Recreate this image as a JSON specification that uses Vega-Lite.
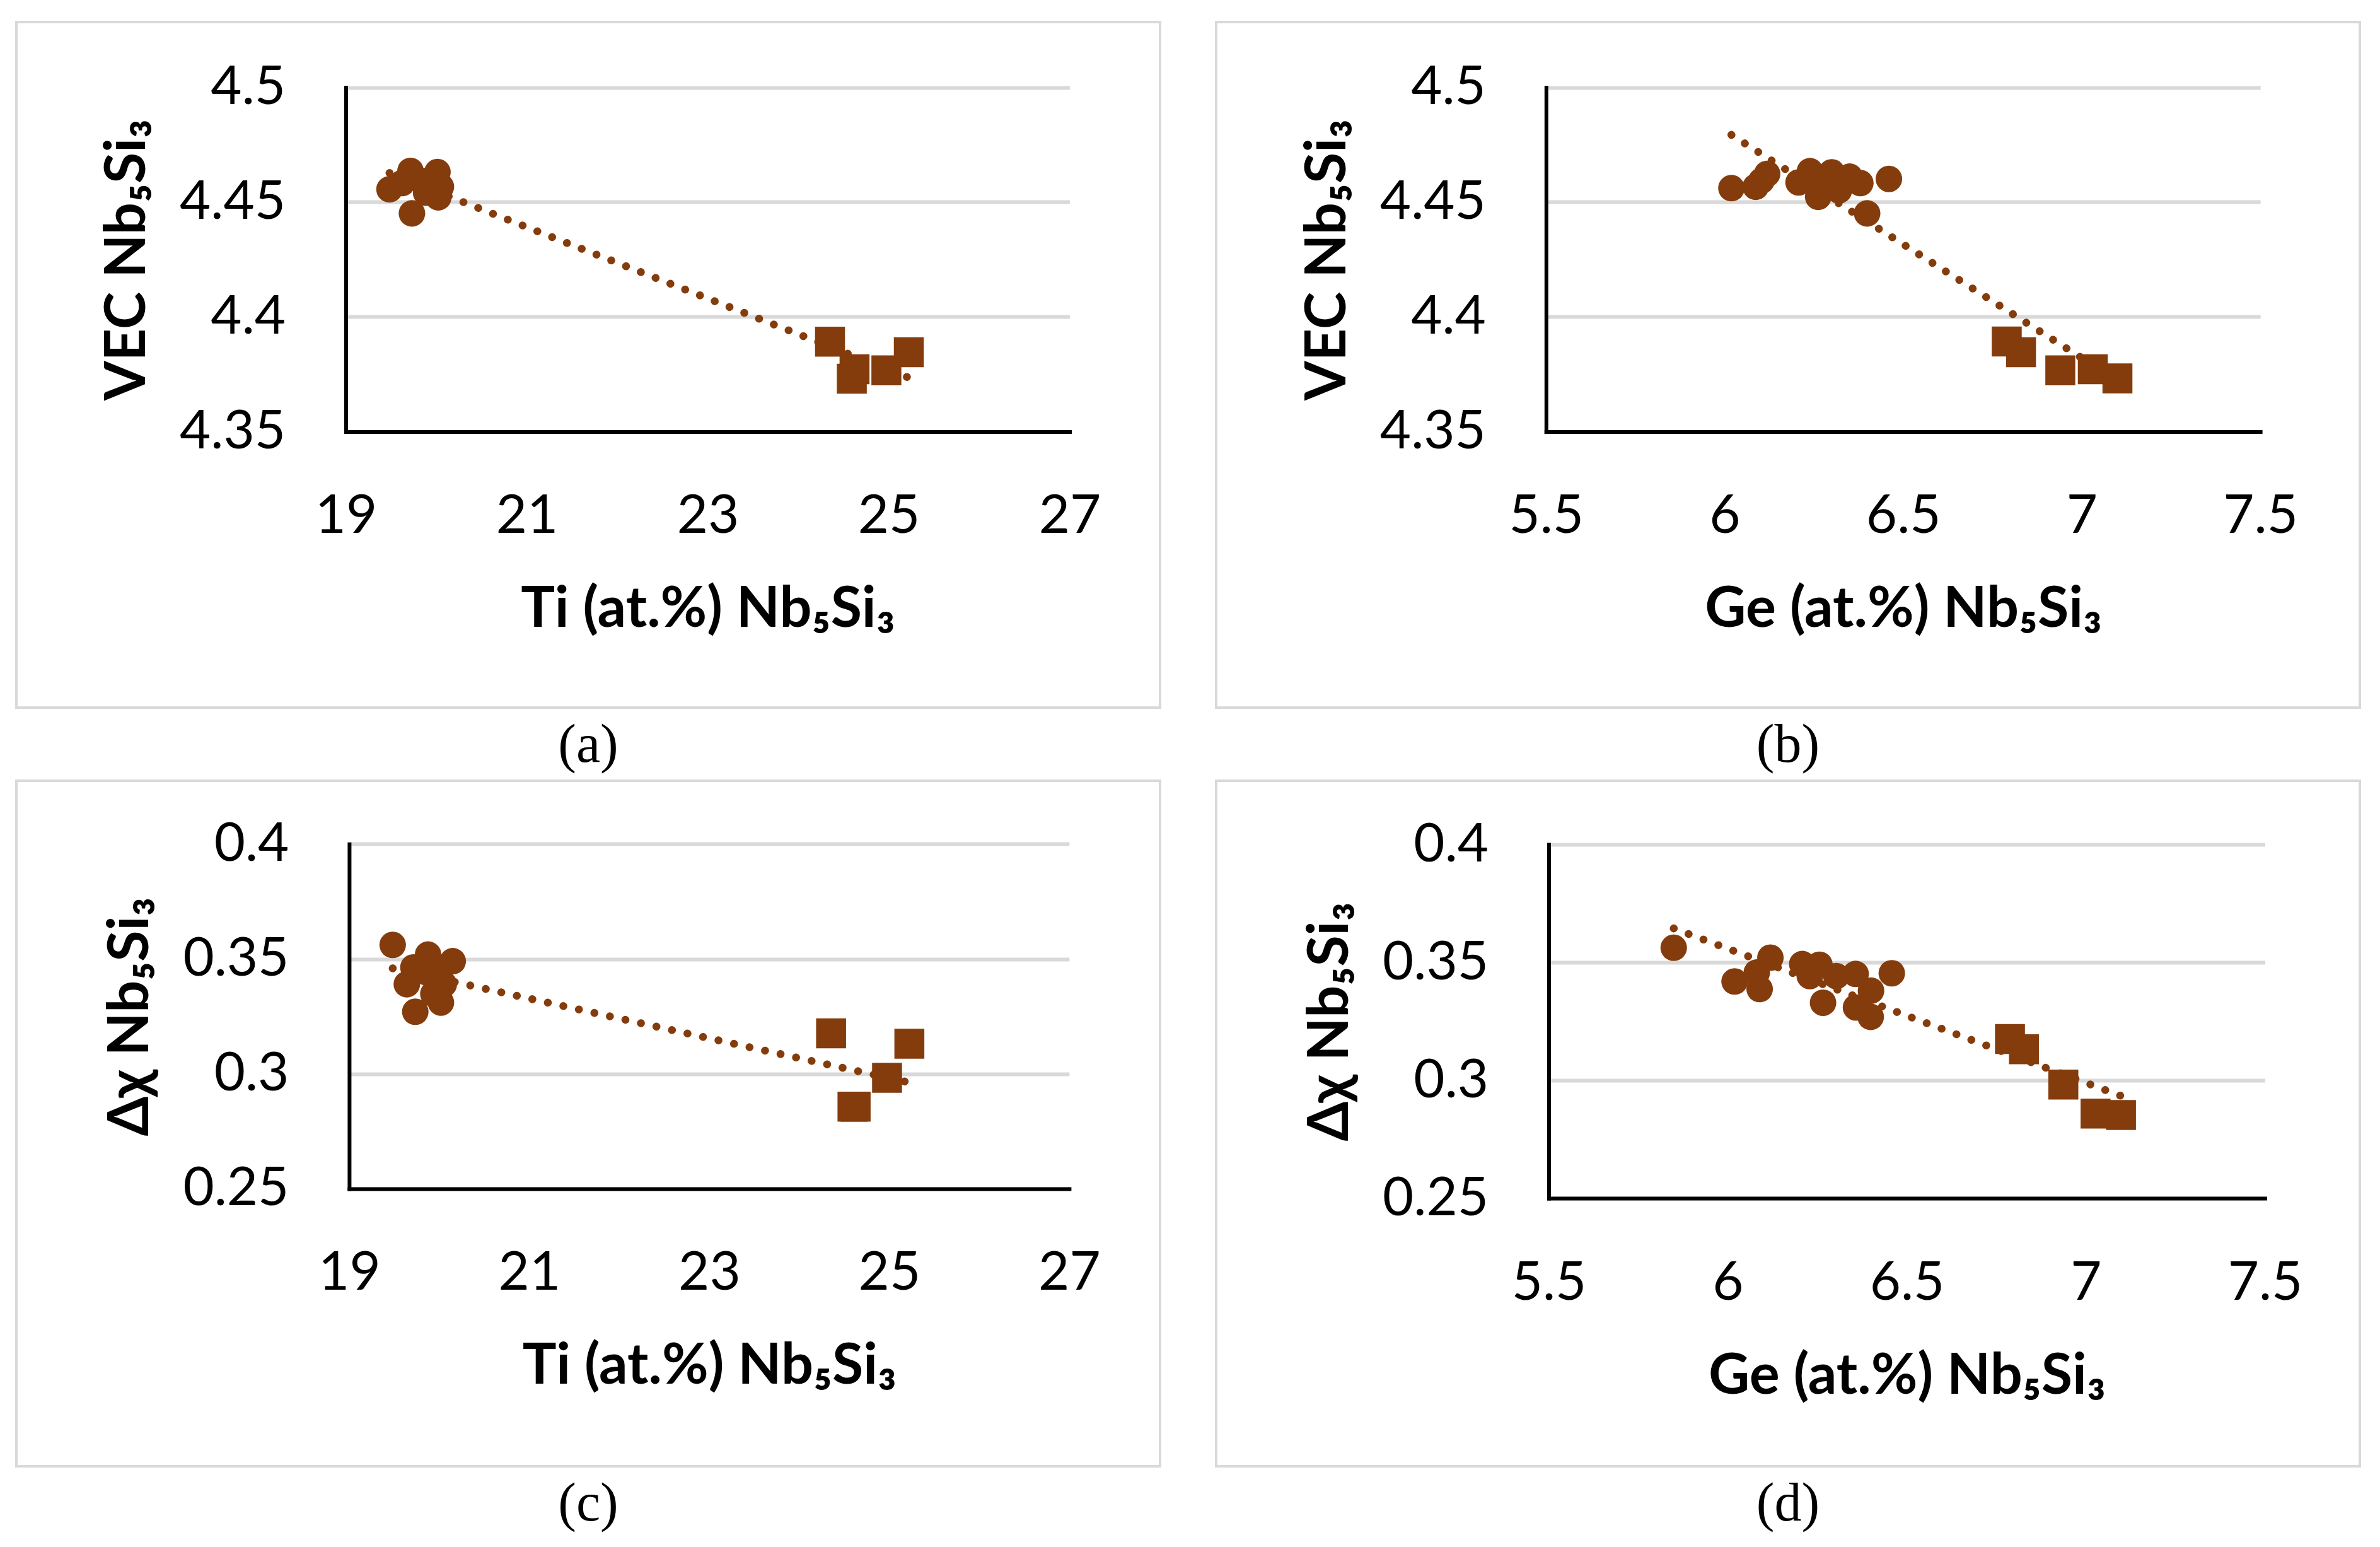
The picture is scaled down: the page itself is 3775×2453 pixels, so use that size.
{
  "$schema": "https://vega.github.io/schema/vega-lite/v6.json",
  "background": "#ffffff",
  "padding": {"left": 24, "top": 33, "right": 10, "bottom": 10},
  "columns": 2,
  "spacing": {"row": 116, "column": 89},
  "bounds": "flush",
  "datasets": {
    "a": [
      {"x": 19.483, "y": 4.4556, "m": "c"},
      {"x": 19.731, "y": 4.4451, "m": "c"},
      {"x": 19.715, "y": 4.4636, "m": "c"},
      {"x": 20.013, "y": 4.4631, "m": "c"},
      {"x": 20.051, "y": 4.4567, "m": "c"},
      {"x": 20.022, "y": 4.4521, "m": "c"},
      {"x": 19.835, "y": 4.4593, "m": "c"},
      {"x": 19.622, "y": 4.4583, "m": "c"},
      {"x": 19.888, "y": 4.4541, "m": "c"},
      {"x": 24.352, "y": 4.3892, "m": "s"},
      {"x": 25.223, "y": 4.3846, "m": "s"},
      {"x": 24.975, "y": 4.3767, "m": "s"},
      {"x": 24.623, "y": 4.3772, "m": "s"},
      {"x": 24.593, "y": 4.3731, "m": "s"}
    ],
    "b": [
      {"x": 6.019, "y": 4.4561, "m": "c"},
      {"x": 6.087, "y": 4.4567, "m": "c"},
      {"x": 6.119, "y": 4.4623, "m": "c"},
      {"x": 6.103, "y": 4.4593, "m": "c"},
      {"x": 6.207, "y": 4.4586, "m": "c"},
      {"x": 6.239, "y": 4.4635, "m": "c"},
      {"x": 6.300, "y": 4.4630, "m": "c"},
      {"x": 6.350, "y": 4.4611, "m": "c"},
      {"x": 6.262, "y": 4.4523, "m": "c"},
      {"x": 6.320, "y": 4.4551, "m": "c"},
      {"x": 6.380, "y": 4.4583, "m": "c"},
      {"x": 6.399, "y": 4.4451, "m": "c"},
      {"x": 6.460, "y": 4.4601, "m": "c"},
      {"x": 6.279, "y": 4.4583, "m": "c"},
      {"x": 6.790, "y": 4.3893, "m": "s"},
      {"x": 6.830, "y": 4.3846, "m": "s"},
      {"x": 6.940, "y": 4.3767, "m": "s"},
      {"x": 7.031, "y": 4.3772, "m": "s"},
      {"x": 7.100, "y": 4.3732, "m": "s"}
    ],
    "c": [
      {"x": 19.483, "y": 0.3561, "m": "c"},
      {"x": 19.876, "y": 0.3519, "m": "c"},
      {"x": 20.150, "y": 0.3490, "m": "c"},
      {"x": 19.640, "y": 0.3390, "m": "c"},
      {"x": 19.713, "y": 0.3463, "m": "c"},
      {"x": 19.734, "y": 0.3270, "m": "c"},
      {"x": 20.019, "y": 0.3310, "m": "c"},
      {"x": 20.051, "y": 0.3390, "m": "c"},
      {"x": 19.855, "y": 0.3442, "m": "c"},
      {"x": 19.935, "y": 0.3348, "m": "c"},
      {"x": 19.989, "y": 0.3463, "m": "c"},
      {"x": 24.354, "y": 0.3176, "m": "s"},
      {"x": 25.224, "y": 0.3131, "m": "s"},
      {"x": 24.976, "y": 0.2983, "m": "s"},
      {"x": 24.592, "y": 0.2857, "m": "s"},
      {"x": 24.627, "y": 0.2857, "m": "s"}
    ],
    "d": [
      {"x": 5.849, "y": 0.3562, "m": "c"},
      {"x": 6.019, "y": 0.3419, "m": "c"},
      {"x": 6.089, "y": 0.3387, "m": "c"},
      {"x": 6.119, "y": 0.3520, "m": "c"},
      {"x": 6.081, "y": 0.3457, "m": "c"},
      {"x": 6.208, "y": 0.3493, "m": "c"},
      {"x": 6.256, "y": 0.3490, "m": "c"},
      {"x": 6.357, "y": 0.3451, "m": "c"},
      {"x": 6.266, "y": 0.3329, "m": "c"},
      {"x": 6.399, "y": 0.3269, "m": "c"},
      {"x": 6.358, "y": 0.3309, "m": "c"},
      {"x": 6.400, "y": 0.3380, "m": "c"},
      {"x": 6.458, "y": 0.3454, "m": "c"},
      {"x": 6.303, "y": 0.3442, "m": "c"},
      {"x": 6.229, "y": 0.3442, "m": "c"},
      {"x": 6.788, "y": 0.3175, "m": "s"},
      {"x": 6.827, "y": 0.3132, "m": "s"},
      {"x": 6.937, "y": 0.2982, "m": "s"},
      {"x": 7.027, "y": 0.2859, "m": "s"},
      {"x": 7.098, "y": 0.2853, "m": "s"}
    ]
  },
  "concat": [
    {
      "width": 1814,
      "height": 1087,
      "title": {"text": "(a)", "orient": "bottom"},
      "encoding": {
        "x": {"field": "x", "type": "quantitative",
              "scale": {"domain": [19, 27], "range": [522.5, 1670.5], "zero": false, "nice": false},
              "axis": {"values": [19, 21, 23, 25, 27], "format": "~g", "offset": -437.5, "title": "Ti (at.%) Nb₅Si₃"}},
        "y": {"field": "y", "type": "quantitative",
              "scale": {"domain": [4.35, 4.5], "range": [649.5, 103.5], "zero": false, "nice": false},
              "axis": {"values": [4.35, 4.4, 4.45, 4.5], "format": "~g", "offset": -522.5, "title": "VEC Nb₅Si₃"}}
      },
      "layer": [
        {"data": {"values": [{"x": 21}, {"x": 23}, {"x": 25}, {"x": 27}]},
         "mark": {"type": "rule", "color": "#d9d9d9", "strokeWidth": 6},
         "encoding": {"y": {"datum": 4.3508}, "y2": {"datum": 4.5}}},
        {"data": {"name": "a"}, "transform": [{"filter": {"field": "m", "equal": "c"}}],
         "mark": {"type": "circle", "size": 1772, "opacity": 1, "color": "#843C0C"}},
        {"data": {"name": "a"}, "transform": [{"filter": {"field": "m", "equal": "s"}}],
         "mark": {"type": "square", "size": 2256, "opacity": 1, "color": "#843C0C"}},
        {"data": {"values": [{"x": 19.483, "y": 4.4627}, {"x": 25.223, "y": 4.3735}]},
         "mark": {"type": "line", "color": "#843C0C", "strokeWidth": 12.5, "strokeDash": [0.1, 25.1], "strokeCap": "round"}},
        {"data": {"values": [{"t": "R² = 0.9693"}]},
         "mark": {"type": "text", "font": "Lato", "fontSize": 88, "color": "#000000", "align": "center", "baseline": "alphabetic"},
         "encoding": {"x": {"datum": 24.453}, "y": {"datum": 4.4556}, "text": {"field": "t"}}}
      ]
    },
    {
      "width": 1814,
      "height": 1087,
      "title": {"text": "(b)", "orient": "bottom"},
      "encoding": {
        "x": {"field": "x", "type": "quantitative",
              "scale": {"domain": [5.5, 7.5], "range": [523.3, 1656.1], "zero": false, "nice": false},
              "axis": {"values": [5.5, 6, 6.5, 7, 7.5], "format": "~g", "offset": -437.5, "title": "Ge (at.%) Nb₅Si₃"}},
        "y": {"field": "y", "type": "quantitative",
              "scale": {"domain": [4.35, 4.5], "range": [649.5, 103.5], "zero": false, "nice": false},
              "axis": {"values": [4.35, 4.4, 4.45, 4.5], "format": "~g", "offset": -523.3, "title": "VEC Nb₅Si₃"}}
      },
      "layer": [
        {"data": {"values": [{"x": 6}, {"x": 6.5}, {"x": 7}, {"x": 7.5}]},
         "mark": {"type": "rule", "color": "#d9d9d9", "strokeWidth": 6},
         "encoding": {"y": {"datum": 4.3508}, "y2": {"datum": 4.5}}},
        {"data": {"name": "b"}, "transform": [{"filter": {"field": "m", "equal": "c"}}],
         "mark": {"type": "circle", "size": 1772, "opacity": 1, "color": "#843C0C"}},
        {"data": {"name": "b"}, "transform": [{"filter": {"field": "m", "equal": "s"}}],
         "mark": {"type": "square", "size": 2256, "opacity": 1, "color": "#843C0C"}},
        {"data": {"values": [{"x": 6.019, "y": 4.4793}, {"x": 7.1, "y": 4.3722}]},
         "mark": {"type": "line", "color": "#843C0C", "strokeWidth": 12.5, "strokeDash": [0.1, 25.1], "strokeCap": "round"}},
        {"data": {"values": [{"t": "R² = 0.8687"}]},
         "mark": {"type": "text", "font": "Lato", "fontSize": 88, "color": "#000000", "align": "center", "baseline": "alphabetic"},
         "encoding": {"x": {"datum": 7.0844}, "y": {"datum": 4.4553}, "text": {"field": "t"}}}
      ]
    },
    {
      "width": 1814,
      "height": 1087,
      "title": {"text": "(c)", "orient": "bottom"},
      "encoding": {
        "x": {"field": "x", "type": "quantitative",
              "scale": {"domain": [19, 27], "range": [527.9, 1669.9], "zero": false, "nice": false},
              "axis": {"values": [19, 21, 23, 25, 27], "format": "~g", "offset": -440.1, "title": "Ti (at.%) Nb₅Si₃"}},
        "y": {"field": "y", "type": "quantitative",
              "scale": {"domain": [0.25, 0.4], "range": [646.9, 100.3], "zero": false, "nice": false},
              "axis": {"values": [0.25, 0.3, 0.35, 0.4], "format": "~g", "offset": -527.9, "title": "Δχ Nb₅Si₃"}}
      },
      "layer": [
        {"data": {"values": [{"x": 21}, {"x": 23}, {"x": 25}, {"x": 27}]},
         "mark": {"type": "rule", "color": "#d9d9d9", "strokeWidth": 6},
         "encoding": {"y": {"datum": 0.2508}, "y2": {"datum": 0.4}}},
        {"data": {"name": "c"}, "transform": [{"filter": {"field": "m", "equal": "c"}}],
         "mark": {"type": "circle", "size": 1772, "opacity": 1, "color": "#843C0C"}},
        {"data": {"name": "c"}, "transform": [{"filter": {"field": "m", "equal": "s"}}],
         "mark": {"type": "square", "size": 2256, "opacity": 1, "color": "#843C0C"}},
        {"data": {"values": [{"x": 19.483, "y": 0.3459}, {"x": 25.224, "y": 0.2962}]},
         "mark": {"type": "line", "color": "#843C0C", "strokeWidth": 12.5, "strokeDash": [0.1, 25.1], "strokeCap": "round"}},
        {"data": {"values": [{"t": "R² = 0.7861"}]},
         "mark": {"type": "text", "font": "Lato", "fontSize": 88, "color": "#000000", "align": "center", "baseline": "alphabetic"},
         "encoding": {"x": {"datum": 24.697}, "y": {"datum": 0.35527}, "text": {"field": "t"}}}
      ]
    },
    {
      "width": 1814,
      "height": 1087,
      "title": {"text": "(d)", "orient": "bottom"},
      "encoding": {
        "x": {"field": "x", "type": "quantitative",
              "scale": {"domain": [5.5, 7.5], "range": [527.5, 1663.5], "zero": false, "nice": false},
              "axis": {"values": [5.5, 6, 6.5, 7, 7.5], "format": "~g", "offset": -425, "title": "Ge (at.%) Nb₅Si₃"}},
        "y": {"field": "y", "type": "quantitative",
              "scale": {"domain": [0.25, 0.4], "range": [662, 101], "zero": false, "nice": false},
              "axis": {"values": [0.25, 0.3, 0.35, 0.4], "format": "~g", "offset": -527.5, "title": "Δχ Nb₅Si₃"}}
      },
      "layer": [
        {"data": {"values": [{"x": 6}, {"x": 6.5}, {"x": 7}, {"x": 7.5}]},
         "mark": {"type": "rule", "color": "#d9d9d9", "strokeWidth": 6},
         "encoding": {"y": {"datum": 0.2508}, "y2": {"datum": 0.4}}},
        {"data": {"name": "d"}, "transform": [{"filter": {"field": "m", "equal": "c"}}],
         "mark": {"type": "circle", "size": 1772, "opacity": 1, "color": "#843C0C"}},
        {"data": {"name": "d"}, "transform": [{"filter": {"field": "m", "equal": "s"}}],
         "mark": {"type": "square", "size": 2256, "opacity": 1, "color": "#843C0C"}},
        {"data": {"values": [{"x": 5.849, "y": 0.3644}, {"x": 7.098, "y": 0.2934}]},
         "mark": {"type": "line", "color": "#843C0C", "strokeWidth": 12.5, "strokeDash": [0.1, 25.1], "strokeCap": "round"}},
        {"data": {"values": [{"t": "R² = 0.8377"}]},
         "mark": {"type": "text", "font": "Lato", "fontSize": 88, "color": "#000000", "align": "center", "baseline": "alphabetic"},
         "encoding": {"x": {"datum": 6.9773}, "y": {"datum": 0.35666}, "text": {"field": "t"}}}
      ]
    }
  ],
  "config": {
    "view": {"stroke": "#d9d9d9", "strokeWidth": 4},
    "axis": {
      "ticks": false,
      "gridColor": "#d9d9d9",
      "gridWidth": 6,
      "domainColor": "#000000",
      "domainWidth": 6,
      "domainCap": "square",
      "labelFont": "Lato",
      "labelFontSize": 85,
      "labelColor": "#000000",
      "labelFlush": false,
      "labelOverlap": false,
      "titleFont": "Lato",
      "titleFontSize": 90,
      "titleFontWeight": "bold",
      "titleColor": "#000000"
    },
    "axisX": {"grid": false, "labelPadding": 93, "titlePadding": 61},
    "axisY": {"grid": true, "labelPadding": 96, "titlePadding": 100},
    "title": {"font": "Liberation Serif", "fontSize": 86, "fontWeight": "normal", "color": "#000000", "anchor": "middle", "offset": 18}
  }
}
